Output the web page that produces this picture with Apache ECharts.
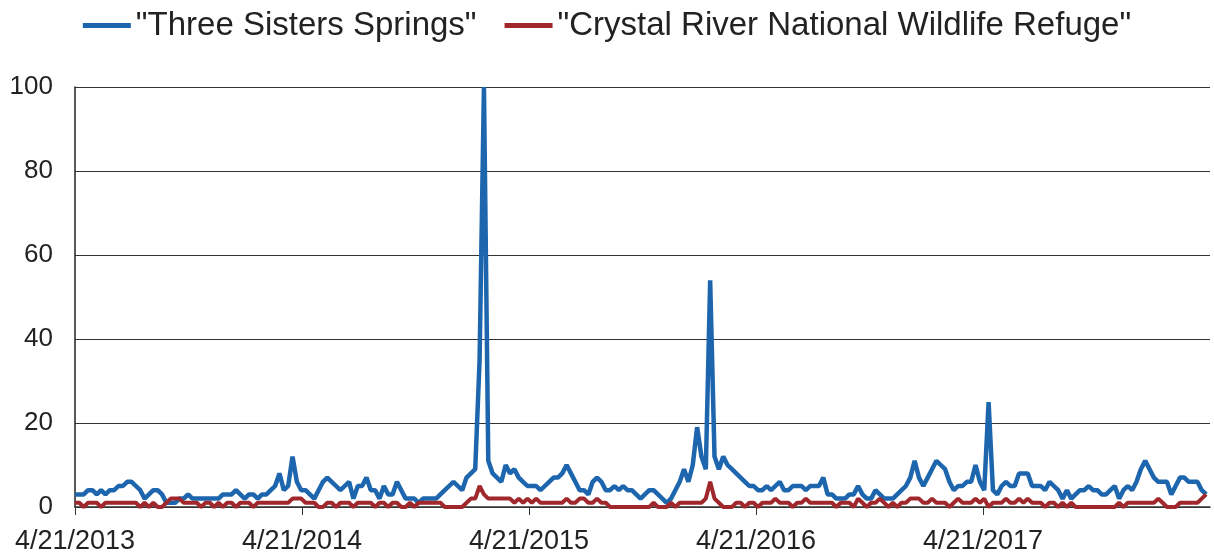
<!DOCTYPE html>
<html>
<head>
<meta charset="utf-8">
<script src="https://cdn.jsdelivr.net/npm/echarts@6/dist/echarts.min.js"></script>
<style>
    html, body { margin: 0; padding: 0; background: #fff; }
    #chart { width: 1214px; height: 558px; }
</style>
</head>
<body>
<div id="chart"></div>
<script>
'use strict';

// weekly data, first week = 4/21/2013
var seriesNames = ['"Three Sisters Springs"', '"Crystal River National Wildlife Refuge"'];
var xTickLabels = ['4/21/2013', '4/21/2014', '4/21/2015', '4/21/2016', '4/21/2017'];
var weeksPerYear = 365.25 / 7;

var threeSisters = [
    3, 3, 3, 4, 4, 3, 4, 3, 4, 4,
    5, 5, 6, 6, 5, 4, 2, 3, 4, 4,
    3, 1, 1, 1, 2, 2, 3, 2, 2, 2,
    2, 2, 2, 2, 3, 3, 3, 4, 3, 2,
    3, 3, 2, 3, 3, 4, 5, 8, 4, 5,
    12, 6, 4, 4, 3, 2, 4, 6, 7, 6,
    5, 4, 5, 6, 2, 5, 5, 7, 4, 4,
    2, 5, 3, 3, 6, 4, 2, 2, 2, 1,
    2, 2, 2, 2, 3, 4, 5, 6, 5, 4,
    7, 8, 9, 35, 100, 11, 8, 7, 6, 10,
    8, 9, 7, 6, 5, 5, 5, 4, 5, 6,
    7, 7, 8, 10, 8, 6, 4, 4, 3, 6,
    7, 6, 4, 4, 5, 4, 5, 4, 4, 3,
    2, 3, 4, 4, 3, 2, 1, 2, 4, 6,
    9, 6, 10, 19, 12, 9, 54, 12, 9, 12,
    10, 9, 8, 7, 6, 5, 5, 4, 4, 5,
    4, 5, 6, 4, 4, 5, 5, 5, 4, 5,
    5, 5, 7, 3, 3, 2, 2, 2, 3, 3,
    5, 3, 2, 2, 4, 3, 2, 2, 2, 3,
    4, 5, 7, 11, 7, 5, 7, 9, 11, 10,
    9, 6, 4, 5, 5, 6, 6, 10, 6, 4,
    25, 4, 3, 5, 6, 5, 5, 8, 8, 8,
    5, 5, 5, 4, 6, 5, 4, 2, 4, 2,
    3, 4, 4, 5, 4, 4, 3, 3, 4, 5,
    2, 4, 5, 4, 6, 9, 11, 9, 7, 6,
    6, 6, 3, 5, 7, 7, 6, 6, 6, 4,
    3
];

var crystalRiver = [
    1, 1, 0, 1, 1, 1, 0, 1, 1, 1,
    1, 1, 1, 1, 1, 0, 1, 0, 1, 0,
    0, 1, 2, 2, 2, 1, 1, 1, 1, 0,
    1, 1, 0, 1, 0, 1, 1, 0, 1, 1,
    1, 0, 1, 1, 1, 1, 1, 1, 1, 1,
    2, 2, 2, 1, 1, 1, 0, 0, 1, 1,
    0, 1, 1, 1, 0, 1, 1, 1, 1, 0,
    1, 1, 0, 1, 1, 0, 0, 1, 0, 1,
    1, 1, 1, 1, 1, 0, 0, 0, 0, 0,
    1, 2, 2, 5, 3, 2, 2, 2, 2, 2,
    2, 1, 2, 1, 2, 1, 2, 1, 1, 1,
    1, 1, 1, 2, 1, 1, 2, 2, 1, 1,
    2, 1, 1, 0, 0, 0, 0, 0, 0, 0,
    0, 0, 0, 1, 0, 0, 0, 1, 0, 1,
    1, 1, 1, 1, 1, 2, 6, 2, 1, 0,
    0, 0, 1, 1, 0, 1, 1, 0, 1, 1,
    1, 2, 1, 1, 1, 0, 1, 1, 2, 1,
    1, 1, 1, 1, 1, 0, 1, 1, 1, 0,
    2, 1, 0, 1, 1, 2, 1, 0, 1, 0,
    1, 1, 2, 2, 2, 1, 1, 2, 1, 1,
    1, 0, 1, 2, 1, 1, 1, 2, 1, 2,
    0, 1, 1, 1, 2, 1, 1, 2, 1, 2,
    1, 1, 1, 0, 1, 1, 0, 1, 0, 1,
    0, 0, 0, 0, 0, 0, 0, 0, 0, 0,
    1, 0, 1, 1, 1, 1, 1, 1, 1, 2,
    1, 0, 0, 0, 1, 1, 1, 1, 1, 2,
    3
];

function toPoints(values) {
    return values.map(function (v, i) {
        return [i, v];
    });
}

var font = "'Liberation Sans', 'Noto Sans', sans-serif";

var chart = echarts.init(document.getElementById('chart'), null, {renderer: 'canvas'});

var option = {
    animation: false,
    backgroundColor: '#ffffff',
    color: ['#1d66ae', '#a0282d'],
    legend: {
        top: 4,
        left: 'center',
        itemWidth: 48,
        itemHeight: 5,
        itemGap: 28,
        icon: 'rect',
        textStyle: {
            fontFamily: font,
            fontSize: 33,
            color: '#222'
        },
        data: seriesNames
    },
    grid: {
        left: 75,
        right: 4,
        top: 87,
        bottom: 51
    },
    xAxis: {
        type: 'value',
        min: 0,
        max: weeksPerYear * 5,
        interval: weeksPerYear,
        splitLine: {show: false},
        axisLine: {
            show: true,
            lineStyle: {color: '#333', width: 1.5}
        },
        axisTick: {
            show: true,
            length: 8,
            lineStyle: {color: '#333'}
        },
        axisLabel: {
            margin: 21,
            fontFamily: font,
            fontSize: 27,
            color: '#222',
            showMaxLabel: false,
            formatter: function (v) {
                return xTickLabels[Math.round(v / weeksPerYear)] || '';
            }
        }
    },
    yAxis: {
        type: 'value',
        min: 0,
        max: 100,
        interval: 20,
        axisLine: {
            show: true,
            lineStyle: {color: '#222', width: 1.5}
        },
        axisTick: {show: false},
        splitLine: {
            show: true,
            lineStyle: {color: '#333', width: 1.2}
        },
        axisLabel: {
            margin: 22,
            fontFamily: font,
            fontSize: 26,
            color: '#222'
        }
    },
    series: [
        {
            name: seriesNames[0],
            type: 'line',
            data: toPoints(threeSisters),
            showSymbol: false,
            lineStyle: {width: 4.5},
            z: 3
        },
        {
            name: seriesNames[1],
            type: 'line',
            data: toPoints(crystalRiver),
            showSymbol: false,
            lineStyle: {width: 4},
            z: 4
        }
    ]
};

chart.setOption(option);
</script>
</body>
</html>
